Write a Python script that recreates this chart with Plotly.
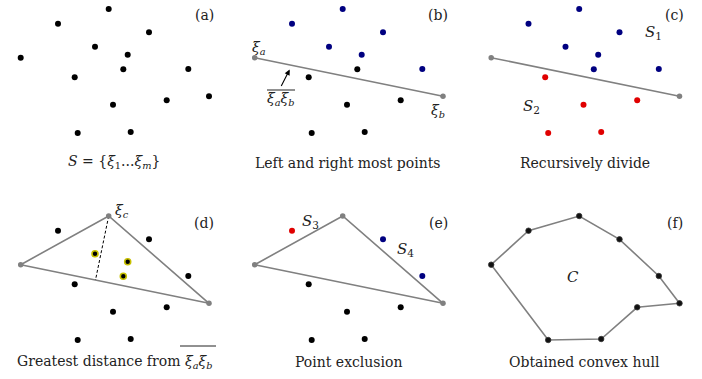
import plotly.graph_objects as go

# Point set (panel-local coordinates, y grows downward)
pts_x = [108.7, 58.0, 149.0, 95.0, 127.7, 20.7, 123.3, 188.3, 74.7, 209.0, 166.7, 113.0, 77.7, 130.7]
pts_y = [9.0, 23.7, 32.3, 46.7, 54.7, 57.7, 69.3, 69.0, 77.3, 96.3, 100.3, 104.7, 133.0, 132.0]

IA, IB, IC = 5, 9, 0  # xi_a, xi_b, xi_c

# colour class per point for each panel
cls_b = ["blue", "blue", "blue", "blue", "blue", "end", "black", "blue", "black", "end", "black", "black", "black", "black"]
cls_c = ["blue", "blue", "blue", "blue", "blue", "end", "blue", "blue", "red", "end", "red", "red", "red", "red"]
cls_d = ["end", "black", "black", "yellow", "yellow", "end", "yellow", "black", "black", "end", "black", "black", "black", "black"]
cls_e = ["end", "red", "blue", None, None, "end", None, "blue", "black", "end", "black", "black", "black", "black"]
hull_order = [5, 1, 0, 2, 7, 9, 10, 13, 12, 5]
triangle = [5, 0, 9, 5]
foot = (95.5, 73.0)  # foot of perpendicular from xi_c on xi_a xi_b (read)

captions = ["<i>S</i> = {<i>ξ</i><sub>1</sub>...<i>ξ<sub>m</sub></i>}",
            "Left and right most points",
            "Recursively divide",
            "Greatest distance from <i>ξ<sub>a</sub>ξ<sub>b</sub></i>",
            "Point exclusion",
            "Obtained convex hull"]
tags = ["(a)", "(b)", "(c)", "(d)", "(e)", "(f)"]

COL = {"black": "#000000", "blue": "#000080", "red": "#e00000", "end": "#808080", "yellow": "#000000"}
GRAY = "#808080"
FONT = "DejaVu Serif"

W, H = 231, 172
col_off = [0, 234, 470.5]
row_off = [0, 207]
FW, FH = 702, 379

fig = go.Figure()
layout = dict(width=FW, height=FH, margin=dict(l=0, r=0, t=0, b=0),
              paper_bgcolor="white", plot_bgcolor="white", showlegend=False,
              font=dict(family=FONT))
annotations = []
shapes = []

def ax(i):
    return ("x" if i == 0 else f"x{i+1}", "y" if i == 0 else f"y{i+1}")

for i in range(6):
    r, c = divmod(i, 3)
    x0 = col_off[c] / FW
    x1 = (col_off[c] + W) / FW
    y1 = 1 - row_off[r] / FH
    y0 = max(0, 1 - (row_off[r] + H) / FH)
    k = "" if i == 0 else str(i + 1)
    layout["xaxis" + k] = dict(domain=[x0, x1], range=[0, W], visible=False, fixedrange=True)
    layout["yaxis" + k] = dict(domain=[y0, y1], range=[H, 0], visible=False, fixedrange=True)

def scatter(i, xs, ys, **kw):
    xa, ya = ax(i)
    fig.add_trace(go.Scatter(x=xs, y=ys, xaxis=xa, yaxis=ya, hoverinfo="skip", **kw))

def dots(i, classes, size=6):
    for cl in ["black", "blue", "red", "end", "yellow"]:
        idx = [j for j, v in enumerate(classes) if v == cl]
        if not idx:
            continue
        line = dict(width=1.6, color="#c8c000") if cl == "yellow" else dict(width=0)
        sz = 5.5 if cl == "end" else size
        scatter(i, [pts_x[j] for j in idx], [pts_y[j] for j in idx], mode="markers",
                marker=dict(size=sz, color=COL[cl], line=line))

def seg(i, idxs, **kw):
    scatter(i, [pts_x[j] for j in idxs], [pts_y[j] for j in idxs], mode="lines",
            line=dict(color=GRAY, width=1.6), **kw)

def text(i, x, y, s, size=15, xanchor="center"):
    xa, ya = ax(i)
    annotations.append(dict(x=x, y=y, xref=xa, yref=ya, text=s, showarrow=False,
                            xanchor=xanchor, yanchor="middle",
                            font=dict(family=FONT, size=size, color="#222")))

def overline(i, xa0, xa1, y):
    xa, ya = ax(i)
    shapes.append(dict(type="line", xref=xa, yref=ya, x0=xa0, x1=xa1, y0=y, y1=y,
                       line=dict(color="#222", width=1)))

# (a)
dots(0, ["black"] * len(pts_x))
# (b)
seg(1, [IA, IB])
dots(1, cls_b)
# (c)
seg(2, [IA, IB])
dots(2, cls_c)
# (d)
seg(3, triangle)
scatter(3, [pts_x[IC], foot[0]], [pts_y[IC], foot[1]], mode="lines",
        line=dict(color="black", width=1, dash="3px,2px"))
dots(3, cls_d)
# (e)
seg(4, triangle)
dots(4, cls_e)
# (f)
seg(5, hull_order)
scatter(5, [pts_x[j] for j in hull_order[:-1]], [pts_y[j] for j in hull_order[:-1]], mode="markers",
        marker=dict(size=5.5, color="#111", line=dict(width=0.8, color="#333")))

# tags and captions
cap_y = [162, 163, 163, 155, 155, 155]
for i in range(6):
    text(i, 204, 15 if i < 3 else 16, tags[i], size=14)
    text(i, 114, cap_y[i], captions[i], size=14)

# math labels
text(1, 25, 48, "<i>ξ<sub>a</sub></i>", size=14)
text(1, 204, 111, "<i>ξ<sub>b</sub></i>", size=14)
text(1, 47, 99, "<i>ξ<sub>a</sub>ξ<sub>b</sub></i>", size=14)
overline(1, 33, 61, 90)
overline(3, 180, 216, 139)
annotations.append(dict(x=55.7, y=69.5, ax=46.5, ay=87.5, xref="x2", yref="y2", axref="x2", ayref="y2",
                        text="", showarrow=True, arrowhead=2, arrowsize=1, arrowwidth=1.1, arrowcolor="black"))
text(2, 183, 32, "<i>S</i><sub>1</sub>", size=15)
text(2, 61, 106, "<i>S</i><sub>2</sub>", size=15)
text(3, 122, 4, "<i>ξ<sub>c</sub></i>", size=14)
text(4, 76, 14, "<i>S</i><sub>3</sub>", size=15)
text(4, 171, 42, "<i>S</i><sub>4</sub>", size=15)
text(5, 102, 70, "<i>C</i>", size=15)

layout["annotations"] = annotations
layout["shapes"] = shapes
fig.update_layout(**layout)
fig.write_html("out.html")
